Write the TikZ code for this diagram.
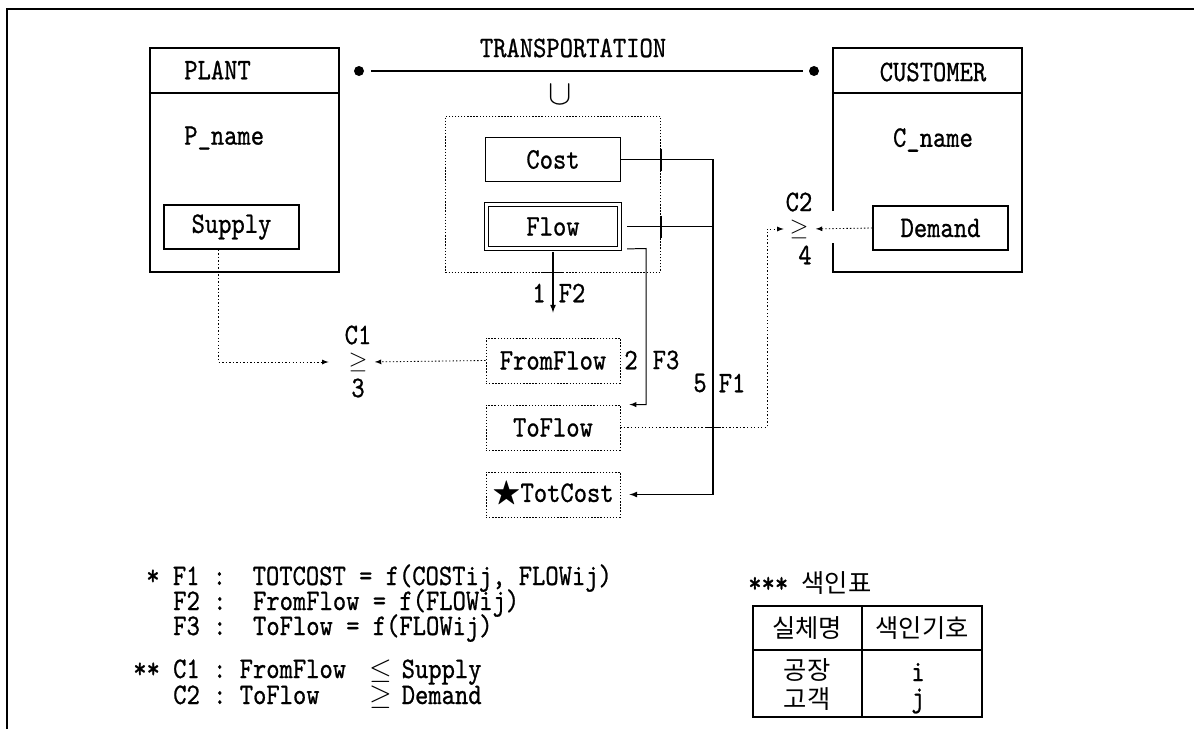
\documentclass[tikz,border=0pt]{standalone}
\usepackage{amssymb}
\usepackage{fontspec}
\newfontfamily\cjk{Noto Sans CJK KR}
\newfontfamily\tyfont{lmmono10-regular.otf}[FakeStretch=0.85, FakeBold=0.8]
\tikzset{
  ent/.style={draw, line width=1.6pt, inner sep=0pt, minimum width=4.725cm, minimum height=5.6cm},
  attr/.style={draw, line width=0.9pt, inner sep=0pt, minimum width=3.375cm, minimum height=1.1cm},
  der/.style={draw, line width=0.6pt, dash pattern=on 1pt off 1.2pt, inner sep=0pt, minimum width=3.35cm, minimum height=1.125cm},
  conn/.style={line width=0.9pt},
  dconn/.style={line width=0.6pt, dash pattern=on 1pt off 1.5pt},
  lbl/.style={inner sep=0pt},
  rel/.style={inner sep=0pt, font=\fontsize{18}{18}\selectfont},
  dotmark/.style={circle, fill, inner sep=0pt, minimum size=0.25cm},
}
\begin{document}
\begin{tikzpicture}[x=0.025cm, y=-0.025cm, font=\fontsize{21.2}{22}\selectfont\tyfont]
  \useasboundingbox (0,0) rectangle (1194,729);
  \draw[conn] (7,729) -- (7,9) -- (1194,9);
  % entities
  \node[ent] (plant) at (244.5,160) {};
  \draw[line width=1.6pt] (plant.west |- 0,93) -- (plant.east |- 0,93);
  \node[lbl, anchor=west] (plantname) at (184,70) {PLANT};
  \node[lbl, anchor=west] (pname) at (184,138) {P\_name};
  \node[attr] (supply) at (231.5,227) {Supply};
  \node[ent] (customer) at (927.5,160) {};
  \draw[line width=1.6pt] (customer.west |- 0,93) -- (customer.east |- 0,93);
  \node[lbl] (custname) at (933,72) {CUSTOMER};
  \node[lbl] (cname) at (933,140) {C\_name};
  \node[attr] (demand) at (940.5,228) {Demand};
  \fill[white] (830,211) rectangle (836,243);
  % relationship
  \node[dotmark] (ldot) at (359,71) {};
  \node[dotmark] (rdot) at (814,71) {};
  \draw[conn, shorten <=5pt, shorten >=4pt] (ldot) -- (rdot);
  \node[lbl] (trans) at (573,48) {TRANSPORTATION};
  \node[lbl, font=\fontsize{24}{24}\selectfont] (union) at (560,95) {$\cup$};
  \node[draw, line width=0.6pt, dash pattern=on 1pt off 1.2pt, minimum width=5.375cm, minimum height=3.9cm] (group) at (553,194) {};
  \node[attr] (cost) at (553,159.5) {Cost};
  \node[attr, double, double distance=1.8pt, line width=0.8pt, minimum width=3.33cm] (flow) at (553,226.5) {Flow};
  % derived attributes
  \node[der] (fromflow) at (553,360.5) {FromFlow};
  \node[der] (toflow) at (553,427.5) {ToFlow};
  \node[der] (totcost) at (553,494.5) {$\bigstar$TotCost};
  % constraints
  \node[rel] (c1) at (358,362) {$\geq$};
  \node[lbl] (c1name) at (358,335) {C1};
  \node[lbl] (c1no) at (358,388) {3};
  \node[rel] (c2) at (799,229) {$\geq$};
  \node[lbl] (c2name) at (799,202) {C2};
  \node[lbl] (c2no) at (805,255) {4};
  % functions
  \coordinate (f1top) at (713,159.5);
  \coordinate (f3top) at (646,248.5);
  \coordinate (c2bend) at (767,229);
  \draw[conn, -latex, shorten >=6.4pt] (cost.east) -- (f1top) |- (totcost.east);
  \draw[conn, shorten <=5pt] (flow.east) -- (flow.east -| f1top);
  \draw[conn] (group.east |- cost.east) ++(0,-11) -- ++(0,22);
  \draw[conn] (group.east |- flow.east) ++(0,-11) -- ++(0,22);
  \draw[conn, -latex, shorten <=2pt, shorten >=17.8pt] (flow.south) -- (fromflow.north);
  \draw[conn] (group.south) ++(-11,0) -- ++(22,0);
  \draw[line width=0.7pt, -latex, shorten <=5pt, shorten >=6.4pt] (flow.south east) -- (f3top) |- (toflow.north east);
  \node[lbl] (n1) at (539,293) {1};
  \node[lbl] (nf2) at (572,293) {F2};
  \node[lbl] (n2) at (631,360) {2};
  \node[lbl] (nf3) at (666,360) {F3};
  \node[lbl] (n5) at (700,383) {5};
  \node[lbl] (nf1) at (732,383) {F1};
  \draw[dconn, -latex, shorten >=14pt] ([xshift=-9.2pt]supply.south) |- (c1.west);
  \draw[dconn, -latex, shorten >=5pt] (fromflow.west) -- (c1.east);
  \draw[dconn, -latex, shorten >=5pt] (demand.west) -- (c2.east);
  \draw[dconn, -latex, shorten >=4pt] (toflow.east) -| (c2bend) -- (c2.west);
  \draw[conn] (toflow.east -| f1top) ++(-8,0) -- ++(16,0);
  % legend
  \node[lbl, anchor=base west] (lf1) at (146,585) {*~F1~:~~TOTCOST~=~f(COSTij,~FLOWij)};
  \node[lbl, anchor=base west] (lf2) at (173,610) {F2~:~~FromFlow~=~f(FLOWij)};
  \node[lbl, anchor=base west] (lf3) at (173,635) {F3~:~~ToFlow~=~f(FLOWij)};
  \node[lbl, anchor=base west] (lc1) at (133,678) {**~C1~:~FromFlow~~\makebox[0.525em]{$\leq$}~Supply};
  \node[lbl, anchor=base west] (lc2) at (173,704) {C2~:~ToFlow~~~~\makebox[0.525em]{$\geq$}~Demand};
  % index table
  \node[lbl, anchor=west] (idxtitle) at (748,583) {***~\fontsize{18}{20}\selectfont\cjk 색인표};
  \draw[line width=1pt] (753,606) rectangle (982,717);
  \draw[line width=1pt] (753,650) -- (982,650) (862,606) -- (862,717);
  \begin{scope}[every node/.style={font=\fontsize{18}{20}\selectfont\cjk}]
    \node[lbl] (hdra) at (807,628) {실체명};
    \node[lbl] (hdrb) at (922,628) {색인기호};
    \node[lbl] (plantk) at (807,670) {공장};
    \node[lbl] (custk) at (807,699) {고객};
  \end{scope}
  \node[lbl] (idxi) at (918,672) {i};
  \node[lbl] (idxj) at (918,701) {j};
\end{tikzpicture}
\end{document}
